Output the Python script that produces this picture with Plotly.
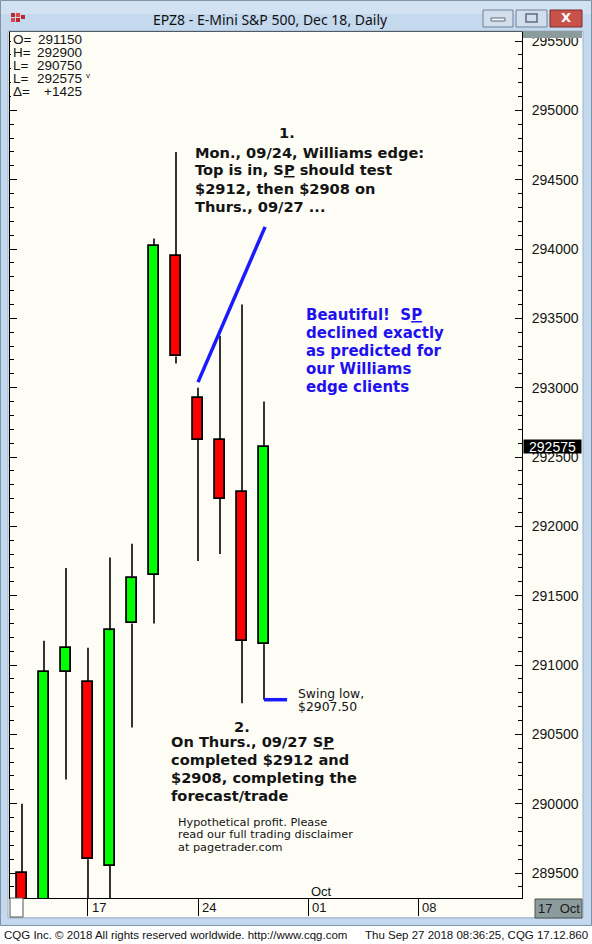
import plotly.graph_objects as go

# EPZ8 daily sessions, 12 Sep .. 27 Sep 2018 (index 0..11 on the x axis)
dates = ["09/12", "09/13", "09/14", "09/17", "09/18", "09/19",
         "09/20", "09/21", "09/24", "09/25", "09/26", "09/27"]
opens = [289500, 289200, 290950, 290875, 289550, 291300,
         291650, 293950, 292925, 292625, 292250, 291150]
highs = [290000, 291175, 291700, 291125, 291775, 291875,
         294075, 294700, 293000, 293375, 293600, 292900]
lows = [289150, 289100, 290175, 289200, 289250, 290550,
        291300, 293175, 291750, 291800, 290725, 290750]
closes = [289250, 290950, 291125, 289600, 291250, 291625,
          294025, 293225, 292625, 292200, 291175, 292575]

# week ticks (session index) and their labels
week_ticks = [3, 8, 13, 18]
week_labels = ["17", "24", "01", "08"]

# hand-drawn blue line from the 09/24 high up to the note
arrow_x = [8.0, 11.05]
arrow_y = [293040, 294160]
# swing-low marker on the last bar
swing_x = [11.0, 12.05]

header_labels = ["O=", "H=", "L=", "L=", "\u0394="]
header_values = ["291150", "292900", "290750", "292575", "+1425"]

# page geometry (pixels) of the plot area
W, H = 592, 944
L, R, T, B = 10, 522, 32, 898
PW, PH = R - L, B - T


def px(x):
    return (x - L) / PW


def py(y):
    return (B - y) / PH


IVORY = "#fdfdf6"
FRAME = "#c4d8ee"
INK = "#141414"
BLUE = "#1f10f0"

n = len(dates)
idx = list(range(n))

wick_x, wick_y = [], []
for i in idx:
    top = max(opens[i], closes[i])
    bot = min(opens[i], closes[i])
    wick_x += [i, i, None, i, i, None]
    wick_y += [highs[i], top, None, bot, lows[i], None]

body_base = [min(o, c) for o, c in zip(opens, closes)]
body_len = [abs(c - o) for o, c in zip(opens, closes)]
body_col = ["#00ff00" if c >= o else "#ff0000" for o, c in zip(opens, closes)]

fig = go.Figure()
fig.add_trace(go.Scatter(x=wick_x, y=wick_y, mode="lines",
                         line=dict(color="black", width=1.6),
                         hoverinfo="skip", showlegend=False))
fig.add_trace(go.Bar(x=idx, y=body_len, base=body_base, width=0.42,
                     marker=dict(color=body_col, line=dict(color="black", width=1.8)),
                     customdata=dates, showlegend=False,
                     hovertemplate="%{customdata}<extra></extra>"))
fig.add_trace(go.Scatter(x=arrow_x, y=arrow_y, mode="lines",
                         line=dict(color="#1a1aff", width=3.5),
                         hoverinfo="skip", showlegend=False))
fig.add_trace(go.Scatter(x=swing_x, y=[lows[-1]] * 2, mode="lines",
                         line=dict(color="#1a1aff", width=3.5),
                         hoverinfo="skip", showlegend=False))

shapes = []


def rect(x0, y0, x1, y1, fill=None, line=None, lw=0):
    shapes.append(dict(type="rect", xref="paper", yref="paper",
                       x0=px(x0), x1=px(x1), y0=py(y1), y1=py(y0),
                       fillcolor=fill or "rgba(0,0,0,0)",
                       line=dict(color=line or "rgba(0,0,0,0)", width=lw),
                       layer="above"))


# window chrome
rect(0, 0, 592, 31, FRAME)
rect(0, 0, 592, 14, "#d3e2f3")
rect(0, 31, 8, 926, FRAME)
rect(583, 31, 592, 926, FRAME)
rect(0, 917, 592, 926, FRAME)
rect(0, 926, 592, 944, "white")
rect(0.5, 0.5, 591.5, 925.5, None, "#7f93ab", 1)
rect(8, 31, 583, 918, None, "#9fb3c9", 1)
# title icon
for (a, b, c) in [(11, 13, "#c0262c"), (16, 13, "#d84a4a"), (11, 18, "#d84a4a"),
                  (16, 18, "#c0262c"), (21, 15, "#c0262c")]:
    rect(a, b, a + 4, b + 4, c)
# window buttons
rect(483, 10, 513, 27, "#d2deeb", "#6f829b", 1)
rect(491, 18, 505, 21, "#f4f7fb", "#5b6b80", 1)
rect(516, 10, 547, 27, "#d2deeb", "#6f829b", 1)
rect(526, 14, 537, 22, None, "#5b6b80", 1.5)
rect(550, 10, 582, 27, "#c8524a", "#7a2f2a", 1)
# axis decorations
rect(523, 31, 582, 38, "#8c9c9c")
rect(535, 899, 582, 918, "#8c9c9c", "#4a5252", 1)
rect(10, 898, 23, 917, "white", "#555555", 1)
# header block hides the left-edge ticks
rect(11, 33, 92, 98, IVORY)

ann = []


def text(x, y, s, size, color=INK, family="Liberation Sans", anchor="left", **kw):
    ann.append(dict(xref="paper", yref="paper", x=px(x), y=py(y), text=s,
                    showarrow=False, xanchor=anchor, yanchor="middle",
                    font=dict(family=family, size=size, color=color), **kw))


text(270, 19, "EPZ8 - E-Mini S&P 500, Dec 18, Daily", 14, "#111111", "Noto Sans", "center")
text(566, 18, "<b>X</b>", 13, "white", "DejaVu Sans", "center")

for k, (lab, val) in enumerate(zip(header_labels, header_values)):
    yy = 40 + 12.8 * k
    text(11, yy, lab, 13.5)
    text(84, yy, val, 13.5, anchor="right")
text(84, 76, "v", 8)

BOLD = "DejaVu Sans"
note1 = ["Mon., 09/24, Williams edge:", "Top is in, S<u>P</u> should test",
         "$2912, then $2908 on", "Thurs., 09/27 ..."]
text(287, 133, "<b>1.</b>", 14.6, anchor="center", family=BOLD)
for k, s in enumerate(note1):
    text(193, 152 + 18 * k, "<b>" + s + "</b>", 14.6, family=BOLD)

note_blue = ["Beautiful!&nbsp; S<u>P</u>", "declined exactly", "as predicted for",
             "our Williams", "edge clients"]
for k, s in enumerate(note_blue):
    text(304, 315 + 18 * k, "<b>" + s + "</b>", 15, BLUE, BOLD)

text(296, 693, "Swing low,", 12.4, family=BOLD)
text(296, 706, "$2907.50", 12.4, family=BOLD)

note2 = ["On Thurs., 09/27 S<u>P</u>", "completed $2912 and",
         "$2908, completing the", "forecast/trade"]
text(242, 726, "<b>2.</b>", 14.6, anchor="center", family=BOLD)
for k, s in enumerate(note2):
    text(169, 741 + 18 * k, "<b>" + s + "</b>", 14.6, family=BOLD)

disclaimer = ["Hypothetical profit. Please", "read our full trading disclaimer",
              "at pagetrader.com"]
for k, s in enumerate(disclaimer):
    text(176, 822 + 12.6 * k, s, 11.3, family=BOLD)

text(309, 891, "Oct", 13)
text(536, 908, "17&nbsp;&nbsp;Oct", 13, "#1a1a1a")
text(2, 935, "CQG Inc. \u00a9 2018 All rights reserved worldwide. http://www.cqg.com", 11.5,
     "#111111")
text(590, 935, "Thu Sep 27 2018 08:36:25, CQG 17.12.860", 11.5, "#111111", anchor="right")

# week labels sit to the right of their tick marks
for t, s in zip(week_ticks, week_labels):
    ann.append(dict(xref="x", yref="paper", x=t, y=py(907), text=s, showarrow=False,
                    xanchor="left", yanchor="middle", xshift=2,
                    font=dict(family="Liberation Sans", size=13, color=INK)))

# last price flag on the price scale
ann.append(dict(xref="paper", yref="y", x=px(552.5), y=closes[-1], text=str(closes[-1]),
                showarrow=False, xanchor="center", yanchor="middle",
                width=57, height=13, bgcolor="black", borderpad=0,
                font=dict(family="Liberation Sans", size=14, color="white")))

fig.update_layout(
    width=W, height=H, autosize=False,
    margin=dict(l=L, r=W - R, t=T, b=H - B, pad=0),
    paper_bgcolor=IVORY, plot_bgcolor=IVORY,
    showlegend=False, bargap=0,
    shapes=shapes, annotations=ann,
)
fig.update_xaxes(range=[-0.545, 22.727], tickvals=week_ticks, ticktext=[""] * 4,
                 ticks="outside", ticklen=17, tickcolor="black", tickwidth=1,
                 showline=True, linecolor="black", linewidth=1, mirror=True,
                 showgrid=False, zeroline=False, fixedrange=True)
fig.update_yaxes(range=[289320, 295565], side="right", tick0=289500, dtick=500,
                 tickformat="d", ticks="inside", ticklen=7, tickcolor="black",
                 minor=dict(dtick=100, ticks="inside", ticklen=4, tickcolor="black"),
                 showline=True, linecolor="black", linewidth=1, mirror="ticks",
                 showgrid=False, zeroline=False, ticklabelstandoff=6,
                 tickfont=dict(family="Liberation Sans", size=14, color=INK),
                 fixedrange=True)

# the page would otherwise add the browser's default 8px body margin
fig.write_html("out.html", config={"displayModeBar": False},
               post_script="document.body.style.margin='0px';")
